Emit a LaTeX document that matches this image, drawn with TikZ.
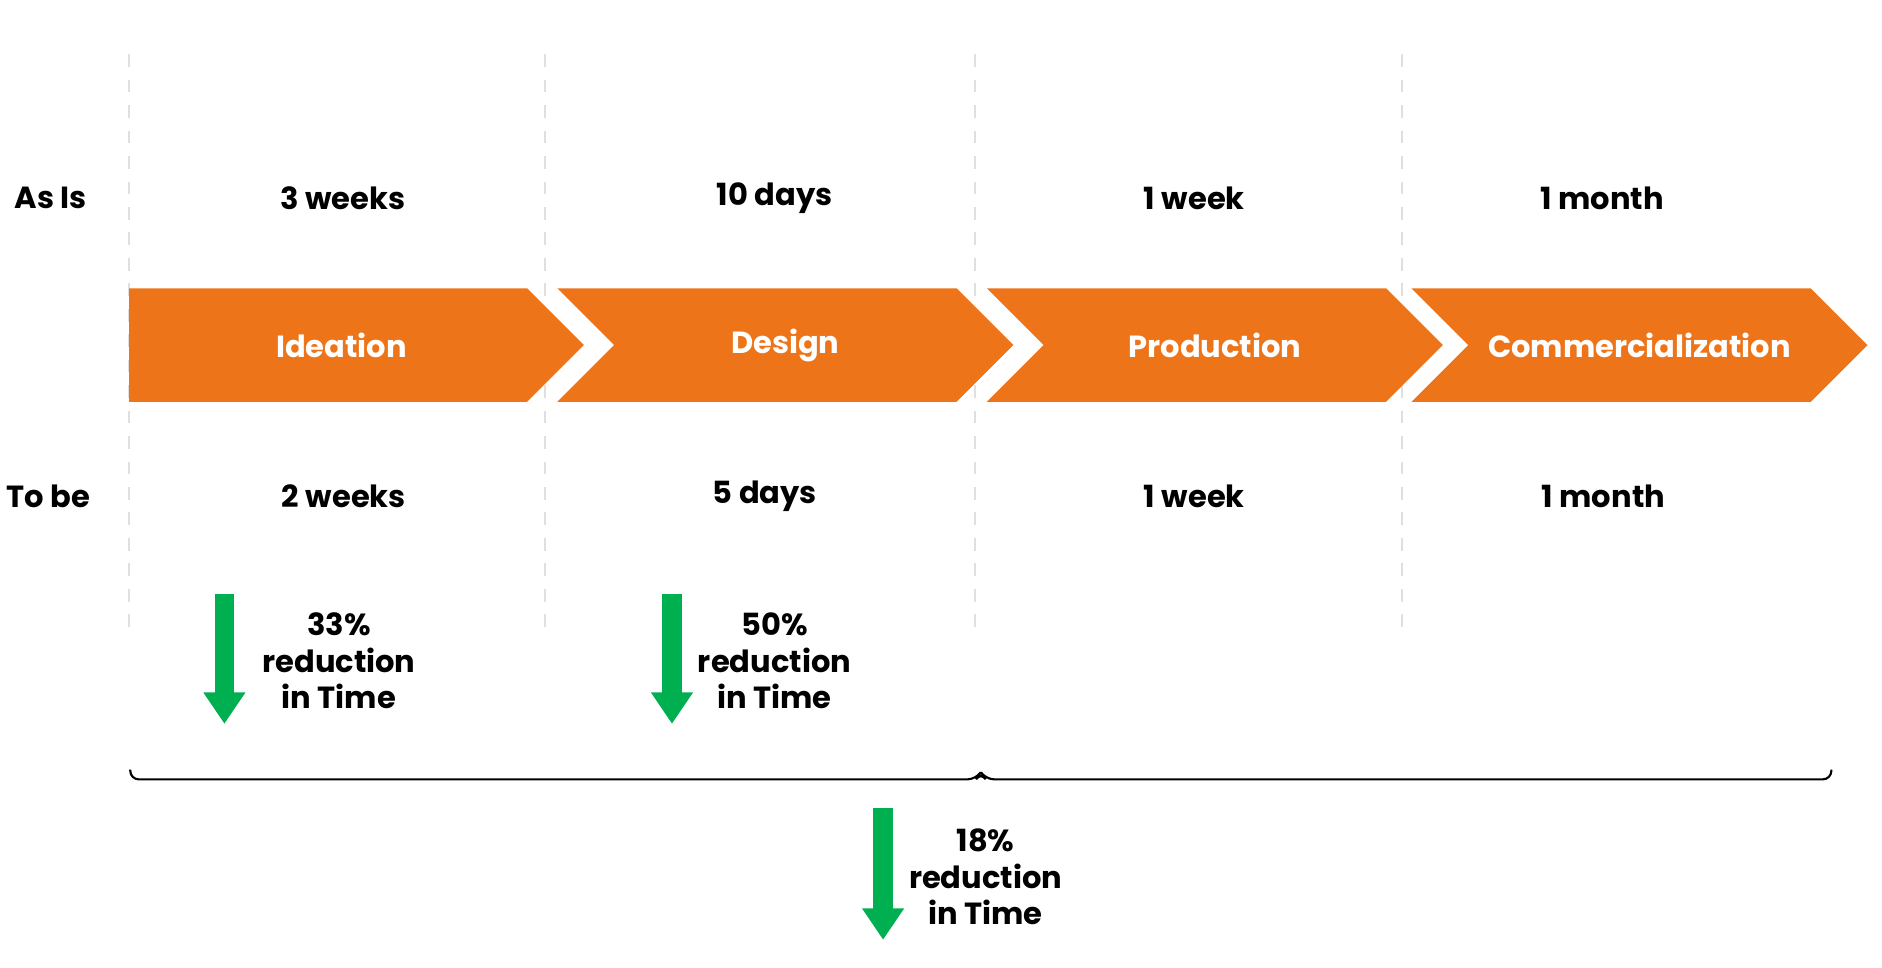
\documentclass[tikz,border=0pt]{standalone}
\usepackage{fontspec}
\setmainfont{Poppins}[BoldFont={Poppins Bold}]
\usetikzlibrary{arrows.meta}
\definecolor{stageorange}{HTML}{ED7418}
\definecolor{gaingreen}{HTML}{00B050}
\tikzset{
  txt/.style={font=\fontsize{7.2}{8.6}\selectfont\bfseries, inner sep=0pt},
  stage/.style={txt, text=white},
  gain/.style={txt, align=center},
  sep/.style={gray!25, dashed, line width=0.4pt},
  chev/.style={fill=stageorange, draw=none},
  down/.style={gaingreen, line width=0.16cm, -{Triangle[width=0.33cm,length=0.26cm]}}
}
\begin{document}
\begin{tikzpicture}[x=0.01cm,y=-0.01cm]
    \useasboundingbox (0,0) rectangle (1560,802);

    % column separators
    \foreach \x in {107, 452, 808, 1162}
        \draw[sep] (\x,45) -- (\x,520);

    % chevrons
    \fill[chev] (107,239) -- (437,239) -- (484,286) -- (437,333) -- (107,333) -- cycle;
    \foreach \x in {462, 818, 1170}
        \fill[chev] (\x,239) -- (\x+331,239) -- (\x+378,286) -- (\x+331,333) -- (\x,333) -- (\x+47,286) -- cycle;

    \node[stage] (ideation) at (283,286) {Ideation};
    \node[stage] (design) at (651,286) {Design};
    \node[stage] (production) at (1007,286) {Production};
    \node[stage] (commerc) at (1359,286) {Commercialization};

    % rows
    \node[txt] (asis) at (42,164) {As Is};
    \node[txt] (tobe) at (40,411) {To be};
    \node[txt] (asis1) at (284,164) {3 weeks};
    \node[txt] (asis2) at (642,164) {10 days};
    \node[txt] (asis3) at (990,164) {1 week};
    \node[txt] (asis4) at (1328,164) {1 month};
    \node[txt] (tobe1) at (285,411) {2 weeks};
    \node[txt] (tobe2) at (634,411) {5 days};
    \node[txt] (tobe3) at (990,411) {1 week};
    \node[txt] (tobe4) at (1329,411) {1 month};

    % reductions
    \coordinate (g1s) at (186,492);  \coordinate (g1e) at (186,600);
    \coordinate (g2s) at (557,492);  \coordinate (g2e) at (557,600);
    \coordinate (g3s) at (732,670);  \coordinate (g3e) at (732,779);
    \draw[down] (g1s) -- (g1e);
    \draw[down] (g2s) -- (g2e);
    \draw[down] (g3s) -- (g3e);
    \node[gain] (gain1) at (281,548) {33\%\\reduction\\in Time};
    \node[gain] (gain2) at (642,548) {50\%\\reduction\\in Time};
    \node[gain] (gain3) at (817,727) {18\%\\reduction\\in Time};

    % overall brace
    \draw[line width=0.5pt, rounded corners=2pt] (108,638) -- (108,646) -- (809,646) -- (813,640) -- (817,646) -- (1518,646) -- (1518,638);
\end{tikzpicture}
\end{document}
